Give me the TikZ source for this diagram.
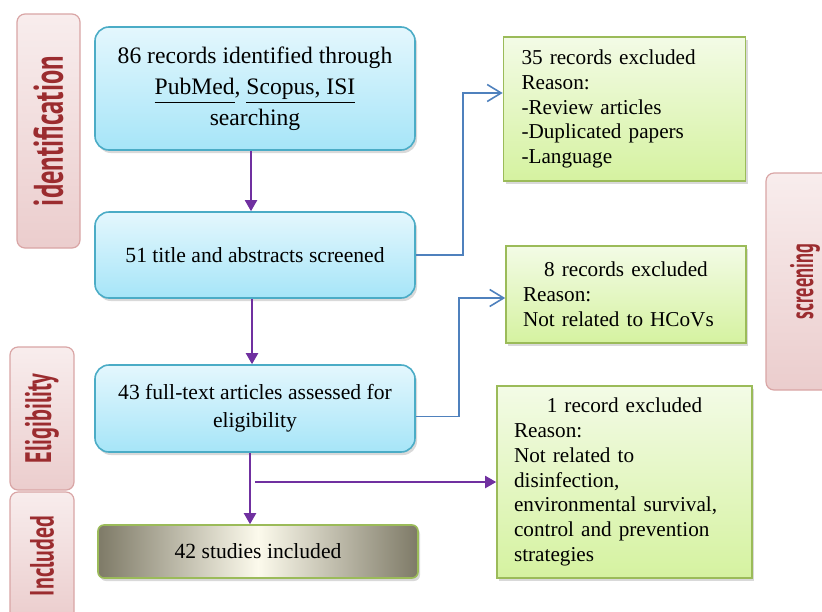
\documentclass[tikz,border=0pt]{standalone}
\usepackage{fontspec}
\setmainfont{Liberation Serif}
\newfontfamily\phasefont{PT Sans}
\usetikzlibrary{shapes,arrows.meta,positioning,shadows}
\definecolor{flowline}{HTML}{4BACC6}
\definecolor{flowtop}{HTML}{E4F7FD}
\definecolor{flowbot}{HTML}{A6E5F8}
\definecolor{exline}{HTML}{9BBB59}
\definecolor{extop}{HTML}{F3FBE6}
\definecolor{exbot}{HTML}{D5F2A0}
\definecolor{phaseline}{HTML}{D9A5A5}
\definecolor{phasetop}{HTML}{F8EDED}
\definecolor{phasebot}{HTML}{EBCDCD}
\definecolor{phasetext}{HTML}{9B2C2F}
\definecolor{incedge}{HTML}{7E7A67}
\definecolor{incmid}{HTML}{FCFAEC}
\definecolor{purpleflow}{HTML}{7030A0}
\definecolor{blueflow}{HTML}{4F81BD}
\newcommand{\phaselabel}[3]{\resizebox*{#1}{#2}{\phasefont\bfseries #3}}

\begin{document}
\begin{tikzpicture}[
    x=0.5pt, y=-0.5pt,
    stage/.style={
        draw=flowline, line width=0.8pt,
        rounded corners=7pt,
        top color=flowtop, bottom color=flowbot,
        minimum width=160pt,
        align=center,
        font=\fontsize{10.8}{14}\selectfont,
        drop shadow={shadow xshift=1pt, shadow yshift=-1.5pt, opacity=0.3}
    },
    excluded/.style={
        draw=exline, line width=0.8pt,
        top color=extop, bottom color=exbot,
        inner xsep=8.5pt,
        align=left,
        font=\fontsize{10.6}{12.4}\selectfont,
        drop shadow={shadow xshift=1pt, shadow yshift=-1.5pt, opacity=0.3}
    },
    phase/.style={
        draw=phaseline, line width=0.6pt,
        rounded corners=4pt,
        top color=phasetop, bottom color=phasebot,
        rotate=90, text=phasetext
    },
    flow/.style={draw=purpleflow, line width=1pt,
        -{Triangle[width=6pt,length=5.5pt]}},
    skip/.style={draw=blueflow, line width=0.8pt,
        -{Straight Barb[width=8.5pt,length=7pt]}}
]
\useasboundingbox (0,0) rectangle (822,611);

\node[phase, minimum width=117pt, minimum height=31.5pt] (p1) at (48.5,131)
    {\phaselabel{75pt}{15pt}{identification}};
\node[phase, minimum width=108.5pt, minimum height=39pt] (p2) at (805,281.5)
    {\phaselabel{37.5pt}{15pt}{screening}};
\node[phase, minimum width=71.5pt, minimum height=32pt] (p3) at (42,418.5)
    {\phaselabel{45pt}{17pt}{Eligibility}};
\node[phase, minimum width=64pt, minimum height=32pt] (p4) at (42,556)
    {\phaselabel{40pt}{12pt}{Included}};

\node[stage, minimum height=61.5pt, font=\fontsize{11.8}{15.5}\selectfont] (s1) at (255,88.5)
    {86 records identified through\\\underline{PubMed\vphantom{p}}, \underline{Scopus, ISI}\\searching};
\node[stage, minimum height=43pt] (s2) at (255,255)
    {51 title and abstracts screened};
\node[stage, minimum height=43.5pt] (s3) at (255,408.5)
    {43 full-text articles assessed for\\eligibility};
\node[stage, rounded corners=3pt, draw=exline,
    left color=incedge, right color=incedge, middle color=incmid,
    minimum height=26.5pt] (s4) at (258,551.5)
    {42 studies included};

\node[excluded, inner xsep=9pt, text width=103pt, minimum height=72pt] (e1) at (624.5,109)
    {35 records excluded\\Reason:\\-Review articles\\-Duplicated papers\\-Language};
\node[excluded, text width=103pt, minimum height=48.5pt] (e2) at (626,294.5)
    {\makebox[\linewidth]{8 records excluded}\\Reason:\\Not related to HCoVs};
\node[excluded, text width=110.5pt, minimum height=96pt] (e3) at (624.5,482)
    {\makebox[\linewidth]{1 record excluded}\\Reason:\\Not related to\\disinfection,\\environmental survival,\\control and prevention\\strategies};

\draw[flow] ([xshift=-2pt]s1.south) -- ([xshift=-2pt]s2.north);
\draw[flow] ([xshift=-1.5pt]s2.south) -- ([xshift=-1.5pt]s3.north);
\draw[flow] ([xshift=-2.5pt]s3.south) -- ([xshift=-2.5pt]s3.south |- s4.north);
\draw[flow] (s3.south |- e3.west) -- (e3.west);
\draw[skip] (s2.east) -- ++(47,0) |- ([yshift=8pt]e1.west);
\draw[skip] ([yshift=-4pt]s3.east) -- ++(43,0) |- ([yshift=-1.75pt]e2.west);
\end{tikzpicture}
\end{document}
